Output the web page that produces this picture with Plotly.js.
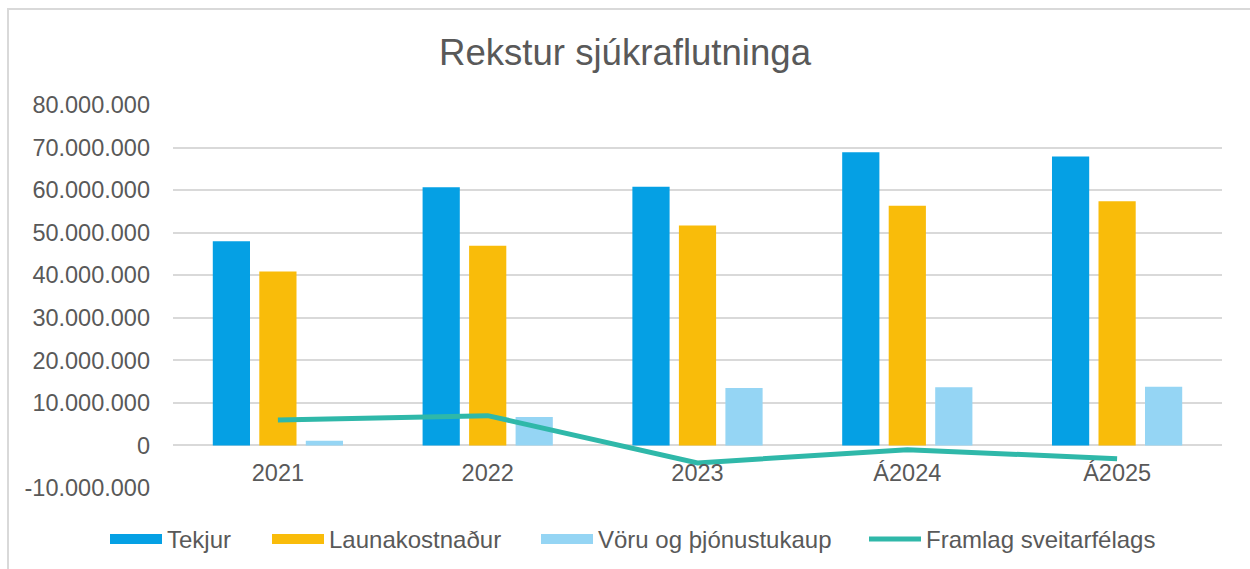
<!DOCTYPE html>
<html>
<head>
<meta charset="utf-8">
<script src="https://cdn.plot.ly/plotly-3.0.1.min.js"></script>
<style>
  html, body { margin: 0; padding: 0; background: #ffffff; overflow: hidden; }
  #wrap { position: relative; width: 1250px; height: 569px; }
  #chart { position: absolute; left: 0; top: 0; width: 1250px; height: 569px; }
  #frame { position: absolute; left: 7px; top: 8px; width: 1300px; height: 620px;
           border-left: 2px solid #d9d9d9; border-top: 2px solid #d9d9d9; pointer-events: none; }
</style>
</head>
<body>
<div id="wrap">
  <div id="chart"></div>
  <div id="frame"></div>
</div>
<script>
const categories = ["2021", "2022", "2023", "Á2024", "Á2025"];
const tekjur = [48000000, 60700000, 60800000, 68900000, 67900000];
const launakostnadur = [40900000, 46900000, 51700000, 56300000, 57400000];
const voruOgThjonustukaup = [1100000, 6700000, 13500000, 13700000, 13800000];
const framlagSveitarfelags = [6000000, 7000000, -4100000, -1000000, -3100000];
const seriesNames = ["Tekjur", "Launakostnaður", "Vöru og þjónustukaup", "Framlag sveitarfélags"];
const yTickValues = [-10000000, 0, 10000000, 20000000, 30000000, 40000000, 50000000, 60000000, 70000000, 80000000];
const yTickLabels = ["-10.000.000", "0", "10.000.000", "20.000.000", "30.000.000", "40.000.000", "50.000.000", "60.000.000", "70.000.000", "80.000.000"];

const textColor = "#595959";
const font = "Liberation Sans, Arial, sans-serif";
const colors = ["#05a0e4", "#f9bc0a", "#95d5f4", "#2fb8a9"];

// plot-area geometry (px) for placing the legend entries
const plotLeft = 173, plotWidth = 1049;
const legendStarts = [105, 267, 536, 864];
const legendX = legendStarts.map(s => (s - plotLeft) / plotWidth);

const barData = [tekjur, launakostnadur, voruOgThjonustukaup];
const traces = [];
barData.forEach((vals, i) => {
  traces.push({ type: "bar", name: seriesNames[i], x: categories, y: vals,
                marker: { color: colors[i] }, showlegend: false, hoverinfo: "skip" });
});
traces.push({ type: "scatter", mode: "lines", name: seriesNames[3], x: categories, y: framlagSveitarfelags,
              line: { color: colors[3], width: 5 }, hoverinfo: "skip", legend: "legend4" });
// legend swatches for the bar series
barData.forEach((vals, i) => {
  traces.push({ type: "scatter", mode: "lines", name: seriesNames[i], x: [null], y: [null],
                line: { color: colors[i], width: 15 }, hoverinfo: "skip",
                legend: i === 0 ? "legend" : "legend" + (i + 1) });
});

function legendAt(k) {
  return { orientation: "h", x: legendX[k], xanchor: "left", y: -0.134, yanchor: "middle",
           font: { family: font, size: 24, color: textColor }, itemwidth: 52,
           bgcolor: "rgba(0,0,0,0)", borderwidth: 0 };
}

const layout = {
  width: 1250, height: 569,
  margin: { l: 173, r: 28, t: 105, b: 81, autoexpand: false },
  paper_bgcolor: "rgba(0,0,0,0)",
  plot_bgcolor: "rgba(0,0,0,0)",
  font: { family: font, color: textColor, size: 23.5 },
  title: { text: "Rekstur sjúkraflutninga", font: { family: font, size: 36.6, color: textColor },
           x: 0.5, xanchor: "center", y: 1 - 52 / 569, yanchor: "middle", yref: "container" },
  barmode: "group",
  bargap: 0.335,
  bargroupgap: 0.2,
  showlegend: true,
  legend: legendAt(0),
  legend2: legendAt(1),
  legend3: legendAt(2),
  legend4: legendAt(3),
  xaxis: {
    type: "category",
    anchor: "free",
    position: 10 / 90,
    showgrid: false,
    showline: false,
    zeroline: false,
    ticks: "",
    ticklabelstandoff: 11,
    tickfont: { family: font, size: 23.5, color: textColor }
  },
  yaxis: {
    domain: [0, 1],
    range: [-10000000, 80000000],
    tickvals: yTickValues,
    ticktext: yTickLabels,
    showgrid: true,
    gridcolor: "#d9d9d9",
    gridwidth: 2,
    zeroline: true,
    zerolinecolor: "#d9d9d9",
    zerolinewidth: 2,
    showline: false,
    ticks: "",
    ticklabelstandoff: 22,
    tickfont: { family: font, size: 23.5, color: textColor }
  }
};

Plotly.newPlot("chart", traces, layout, { displayModeBar: false, staticPlot: true });
</script>
</body>
</html>
